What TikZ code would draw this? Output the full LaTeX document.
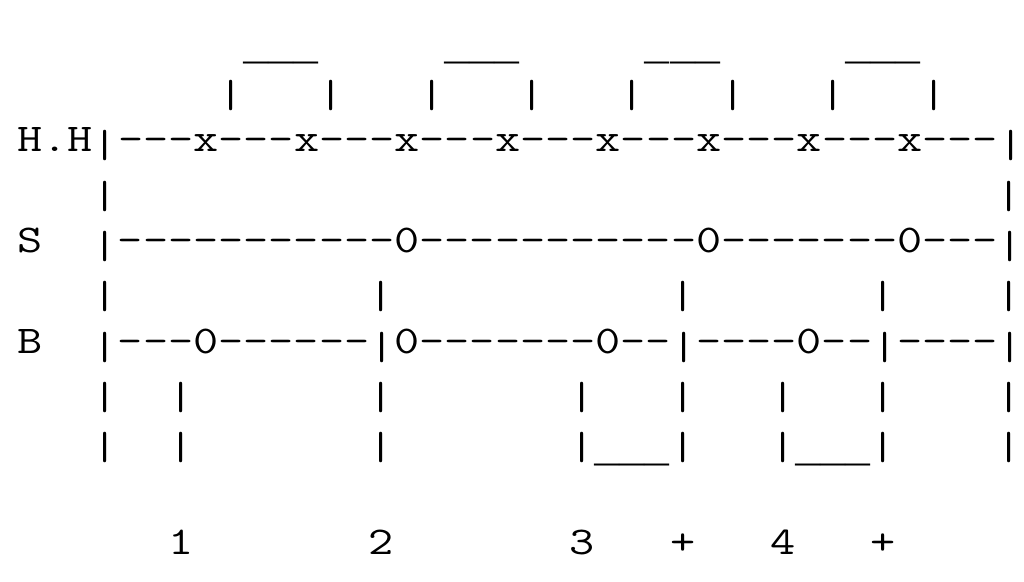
\documentclass[tikz,border=0pt]{standalone}
\usepackage{graphicx}
\usepackage{fontspec}
\newfontfamily\usfont{Liberation Mono}
\newcommand\sx[1]{\scalebox{1.2429}[1]{#1}}
\newcommand\vb{\raisebox{-3pt}{|}}
\newcommand\usc[1]{\raisebox{-3.9pt}{\usfont\fontsize{20.9pt}{24pt}\selectfont #1}}
\newcommand\asccell[4]{\node[asc] (#1) at ({17.45+25.1*#2},{152+50.3*(#3-2)}) {#4};}
\tikzset{asc/.style={anchor=base west, inner sep=0pt, outer sep=0pt, text=black,
  font={\ttfamily\fontsize{19.64pt}{24pt}\selectfont}}}
\begin{document}
\begin{tikzpicture}[x=0.5pt,y=-0.5pt]
\useasboundingbox[fill=white] (0,0) rectangle (1024,582);
% row 0: beams
\asccell{u1}{9}{0}{\usc{\_\_\_}}
\asccell{u2}{17}{0}{\usc{\_\_\_}}
\asccell{u3}{25}{0}{\usc{\_\_\_}}
\asccell{u4}{33}{0}{\usc{\_\_\_}}
% row 1: stems
\asccell{t1}{8}{1}{\sx{\vb}}
\asccell{t2}{12}{1}{\sx{\vb}}
\asccell{t3}{16}{1}{\sx{\vb}}
\asccell{t4}{20}{1}{\sx{\vb}}
\asccell{t5}{24}{1}{\sx{\vb}}
\asccell{t6}{28}{1}{\sx{\vb}}
\asccell{t7}{32}{1}{\sx{\vb}}
\asccell{t8}{36}{1}{\sx{\vb}}
% row 2: hi-hat
\asccell{hh}{0}{2}{\sx{H.H\vb{-}{-}{-}x{-}{-}{-}x{-}{-}{-}x{-}{-}{-}x{-}{-}{-}x{-}{-}{-}x{-}{-}{-}x{-}{-}{-}x{-}{-}{-}\vb}}
% row 3
\asccell{ra}{3}{3}{\sx{\vb}}
\asccell{rb}{39}{3}{\sx{\vb}}
% row 4: snare
\asccell{s}{0}{4}{\sx{S}}
\asccell{sline}{3}{4}{\sx{\vb{-}{-}{-}{-}{-}{-}{-}{-}{-}{-}{-}0{-}{-}{-}{-}{-}{-}{-}{-}{-}{-}{-}0{-}{-}{-}{-}{-}{-}{-}0{-}{-}{-}\vb}}
% row 5
\asccell{fa}{3}{5}{\sx{\vb}}
\asccell{fb}{14}{5}{\sx{\vb}}
\asccell{fc}{26}{5}{\sx{\vb}}
\asccell{fd}{34}{5}{\sx{\vb}}
\asccell{fe}{39}{5}{\sx{\vb}}
% row 6: bass
\asccell{b}{0}{6}{\sx{B}}
\asccell{bline}{3}{6}{\sx{\vb{-}{-}{-}0{-}{-}{-}{-}{-}{-}\vb0{-}{-}{-}{-}{-}{-}{-}0{-}{-}\vb{-}{-}{-}{-}0{-}{-}\vb{-}{-}{-}{-}\vb}}
% row 7
\asccell{ga}{3}{7}{\sx{\vb}}
\asccell{gb}{6}{7}{\sx{\vb}}
\asccell{gc}{14}{7}{\sx{\vb}}
\asccell{gd}{22}{7}{\sx{\vb}}
\asccell{ge}{26}{7}{\sx{\vb}}
\asccell{gf}{30}{7}{\sx{\vb}}
\asccell{gg}{34}{7}{\sx{\vb}}
\asccell{gh}{39}{7}{\sx{\vb}}
% row 8
\asccell{ha}{3}{8}{\sx{\vb}}
\asccell{hb}{6}{8}{\sx{\vb}}
\asccell{hc}{14}{8}{\sx{\vb}}
\asccell{hd}{22}{8}{\sx{\vb}\usc{\_\_\_}\sx{\vb}}
\asccell{he}{30}{8}{\sx{\vb}\usc{\_\_\_}\sx{\vb}}
\asccell{hf}{39}{8}{\sx{\vb}}
% row 10: counts
\asccell{n1}{6}{10}{\sx{1}}
\asccell{n2}{14}{10}{\sx{2}}
\asccell{n3}{22}{10}{\sx{3}}
\asccell{p1}{26}{10}{\sx{+}}
\asccell{n4}{30}{10}{\sx{4}}
\asccell{p2}{34}{10}{\sx{+}}
\end{tikzpicture}
\end{document}
